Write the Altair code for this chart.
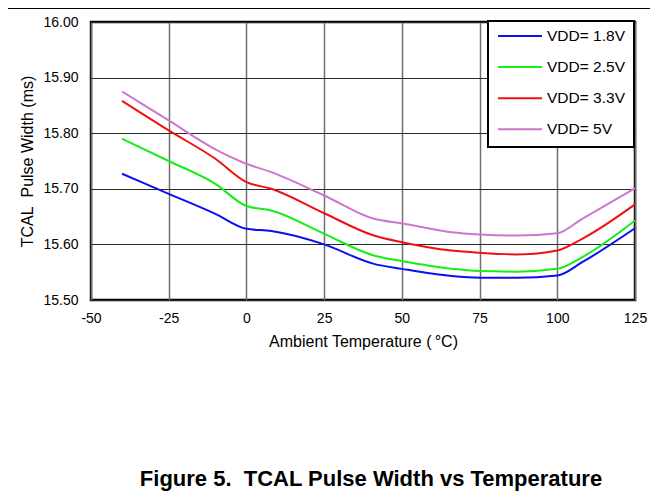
import altair as alt
import pandas as pd

temps = [-40, -25, -10, 0, 8, 25, 41, 50, 66, 75, 87, 100, 108, 125]
vdd_18 = [15.727, 15.691, 15.655, 15.628, 15.624, 15.600, 15.565, 15.556, 15.543, 15.540, 15.540, 15.544, 15.568, 15.629]
vdd_25 = [15.790, 15.750, 15.709, 15.669, 15.661, 15.619, 15.580, 15.570, 15.556, 15.552, 15.551, 15.556, 15.577, 15.643]
vdd_33 = [15.858, 15.805, 15.754, 15.712, 15.700, 15.656, 15.616, 15.604, 15.589, 15.585, 15.582, 15.589, 15.610, 15.672]
vdd_50 = [15.875, 15.823, 15.771, 15.745, 15.730, 15.688, 15.646, 15.638, 15.622, 15.618, 15.616, 15.620, 15.646, 15.701]

series_names = ["VDD= 1.8V", "VDD= 2.5V", "VDD= 3.3V", "VDD= 5V"]
series_colors = ["#0a0ff0", "#17ee17", "#f01010", "#cc77cc"]
x_ticks = [-50, -25, 0, 25, 50, 75, 100, 125]
y_ticks = [15.5, 15.6, 15.7, 15.8, 15.9, 16.0]

rows = []
for name, vals in zip(series_names, [vdd_18, vdd_25, vdd_33, vdd_50]):
    for t, v in zip(temps, vals):
        rows.append({"temp": t, "width": v, "series": name})
df = pd.DataFrame(rows)

FONT = "Liberation Sans"

lines = alt.Chart(df).mark_line(interpolate="monotone", strokeWidth=2).encode(
    x=alt.X("temp:Q",
            scale=alt.Scale(domain=[-50, 125], nice=False, zero=False),
            axis=alt.Axis(values=x_ticks, title="Ambient Temperature (\u2009°C)",
                          labelExpr="'' + datum.value",
                          labelFontSize=14, titleFontSize=16, labelFont=FONT, titleFont=FONT,
                          labelColor="black", titleColor="black", titleFontWeight="normal",
                          ticks=False, domain=False, labelPadding=11, titlePadding=8,
                          grid=True, gridColor="#707070", gridWidth=1.5, labelFlush=False)),
    y=alt.Y("width:Q",
            scale=alt.Scale(domain=[15.5, 16.0], nice=False, zero=False),
            axis=alt.Axis(values=y_ticks, format=".2f", title="TCAL\u00a0 Pulse Width (ms)",
                          labelFontSize=14, titleFontSize=16, labelFont=FONT, titleFont=FONT,
                          labelColor="black", titleColor="black", titleFontWeight="normal",
                          ticks=False, domain=False, labelPadding=13, titlePadding=7,
                          grid=True, gridColor="#2a2a2a", gridWidth=1.2, labelFlush=False)),
    color=alt.Color("series:N",
                    scale=alt.Scale(domain=series_names, range=series_colors),
                    legend=alt.Legend(title=None, orient="none", legendX=397, legendY=-1,
                                      symbolType="stroke", symbolSize=1936, symbolStrokeWidth=2,
                                      labelFontSize=15.5, labelFont=FONT, labelColor="black",
                                      labelOffset=4, padding=9, rowPadding=15.1, clipHeight=12,
                                      strokeColor="black", fillColor="white")),
)

top_rule = alt.Chart(pd.DataFrame({"v": [0]})).mark_rule(color="black", strokeWidth=1).encode(
    x=alt.value(-83), x2=alt.value(562), y=alt.value(-13.5)
)

chart = alt.layer(lines, top_rule).properties(
    width=544, height=278,
    autosize=alt.AutoSizeParams(type="none"),
    padding={"left": 83, "top": 14, "right": 15, "bottom": 195},
    title=alt.TitleParams("Figure 5.\u00a0 TCAL Pulse Width vs Temperature", orient="bottom",
                          anchor="middle", fontSize=22, fontWeight="bold", font=FONT,
                          color="black", offset=120, dx=8),
).configure_view(stroke="black", strokeWidth=2.5).configure_legend(strokeWidth=2)

chart.save("out.html", embed_options={"renderer": "svg", "actions": False})
